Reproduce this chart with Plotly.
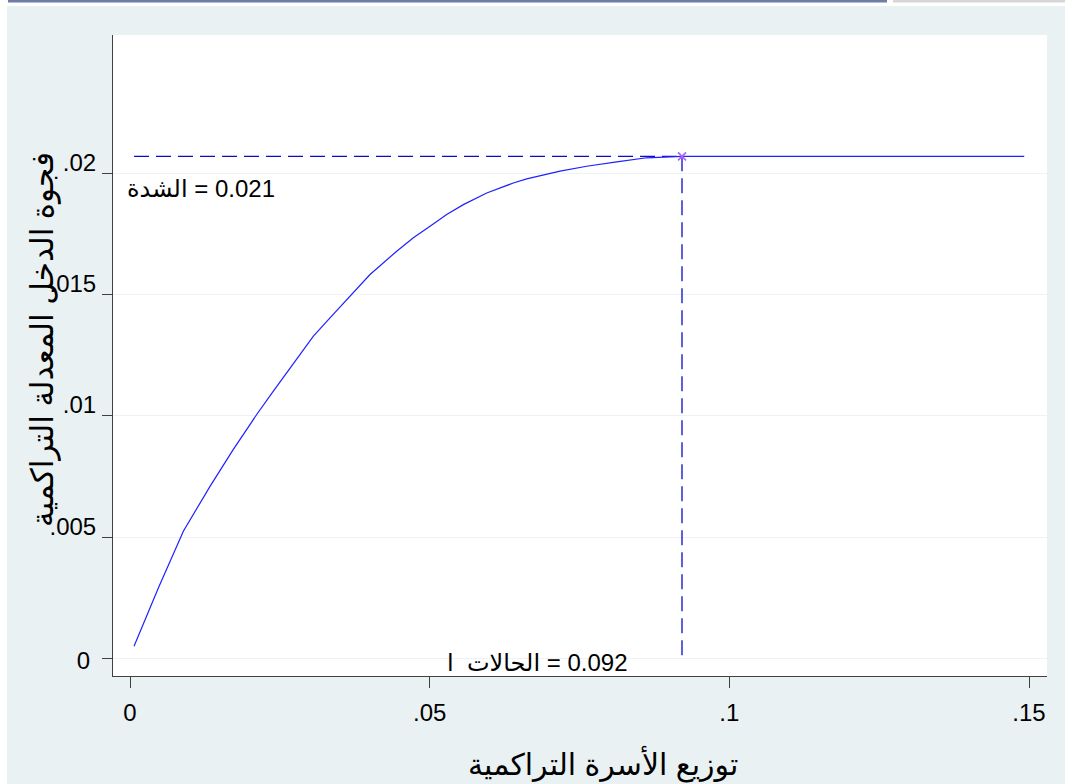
import plotly.graph_objects as go

# Cumulative household distribution (x) and cumulative normalized income gap (y)
curve_x = [0.00067, 0.00473, 0.0089, 0.01335, 0.01724, 0.02114, 0.02392, 0.02781,
           0.0306, 0.03337, 0.03671, 0.04005, 0.0445, 0.04728, 0.05006, 0.05284,
           0.05562, 0.05952, 0.06396, 0.06619, 0.07175, 0.0762, 0.08121, 0.08621,
           0.0921, 0.1492]
curve_y = [0.00051, 0.00291, 0.00525, 0.0071, 0.00862, 0.01006, 0.01102, 0.01232,
           0.01329, 0.01404, 0.01494, 0.01583, 0.01679, 0.01734, 0.01782, 0.0183,
           0.01871, 0.01919, 0.0196, 0.01977, 0.02009, 0.02029, 0.02047, 0.02064,
           0.0207, 0.0207]

headcount = 0.0921      # الحالات
intensity = 0.0207      # الشدة
x_start = 0.00067

x_ticks = [0, 0.05, 0.1, 0.15]
x_tick_text = ["0", ".05", ".1", ".15"]
y_ticks = [0, 0.005, 0.01, 0.015, 0.02]
y_tick_text = ["", ".005", ".01", ".015", ".02"]
y_zero_text = ["0"]

x_title = "توزيع الأسرة التراكمية"
y_title = "فجوة الدخل المعدلة التراكمية"
# LRM keeps the number as a left-to-right run after the Arabic word
label_intensity = "الشدة\u200e = 0.021"
label_headcount = "الحالات\u00a0 ا\u200e = 0.092"

W, H = 1065, 784
ML, MR, MT, MB = 113, 18, 35, 108
PW, PH = W - ML - MR, H - MT - MB
X_RANGE = [-0.002837, 0.153]
Y_RANGE = [-0.000717, 0.0257]


def px(x):
    return (x - ML) / PW


def py(y):
    return (H - MB - y) / PH


fig = go.Figure()

dash_col = "#0c0cc8"
# dashed reference lines
fig.add_trace(go.Scatter(x=[x_start, headcount], y=[intensity, intensity], mode="lines",
                         line=dict(color=dash_col, width=1.3, dash="15px,7px"),
                         hoverinfo="skip", showlegend=False))
fig.add_trace(go.Scatter(x=[headcount, headcount], y=[intensity, 0], mode="lines",
                         line=dict(color=dash_col, width=1.3, dash="15px,7px"),
                         hoverinfo="skip", showlegend=False))
# curve
fig.add_trace(go.Scatter(x=curve_x, y=curve_y, mode="lines",
                         line=dict(color="#2020ff", width=1.2),
                         showlegend=False))
# marker
fig.add_trace(go.Scatter(x=[headcount], y=[intensity], mode="markers",
                         marker=dict(symbol="x-thin-open", size=8,
                                     line=dict(color=dash_col, width=1.6)),
                         showlegend=False))
# invisible trace to hold the overlay axis carrying the "0" label
fig.add_trace(go.Scatter(x=[headcount], y=[intensity], yaxis="y2", mode="markers",
                         marker=dict(opacity=0), hoverinfo="skip", showlegend=False))

shapes = [
    dict(type="rect", xref="paper", yref="paper", x0=px(7), x1=px(W), y0=py(6), y1=py(H),
         fillcolor="#EAF1F3", line=dict(width=0), layer="below"),
    dict(type="rect", xref="paper", yref="paper", x0=0, x1=1, y0=0, y1=1,
         fillcolor="white", line=dict(width=0), layer="below"),
    dict(type="rect", xref="paper", yref="paper", x0=px(8), x1=px(887), y0=py(0), y1=py(2.5),
         fillcolor="#6E7DA6", line=dict(width=0), layer="below"),
    dict(type="rect", xref="paper", yref="paper", x0=px(893), x1=px(W), y0=py(0), y1=py(2.5),
         fillcolor="#D6D6D6", line=dict(width=0), layer="below"),
]

font = "Liberation Sans, Arial, DejaVu Sans, sans-serif"

annotations = [
    dict(x=-0.00083, y=0.01939, xref="x", yref="y", text=label_intensity,
         showarrow=False, xanchor="left", yanchor="middle",
         font=dict(size=24, color="black", family=font)),
    dict(x=0.05256, y=-0.00014, xref="x", yref="y", text=label_headcount,
         showarrow=False, xanchor="left", yanchor="middle",
         font=dict(size=24, color="black", family=font)),
    dict(x=px(603), y=py(764), xref="paper", yref="paper", text=x_title,
         showarrow=False, xanchor="center", yanchor="middle",
         font=dict(size=30, color="black", family=font)),
    dict(x=px(43), y=py(340), xref="paper", yref="paper", text=y_title, textangle=-90,
         showarrow=False, xanchor="center", yanchor="middle",
         font=dict(size=31, color="black", family=font)),
]

fig.update_layout(
    width=W, height=H,
    margin=dict(l=ML, r=MR, t=MT, b=MB, pad=0),
    paper_bgcolor="white",
    plot_bgcolor="rgba(0,0,0,0)",
    font=dict(family=font, color="black"),
    shapes=shapes,
    annotations=annotations,
    xaxis=dict(range=X_RANGE, tickvals=x_ticks, ticktext=x_tick_text,
               showgrid=False, zeroline=False, showline=True, linecolor="#404040",
               linewidth=1, ticks="outside", ticklen=11, tickcolor="#404040",
               tickfont=dict(size=24, color="black"), ticklabelstandoff=4),
    yaxis=dict(range=Y_RANGE, tickvals=y_ticks, ticktext=y_tick_text,
               showgrid=True, gridcolor="#EDF2F3", gridwidth=1, zeroline=False,
               showline=True, linecolor="#404040", linewidth=1, ticks="outside",
               ticklen=10, tickcolor="#404040", tickfont=dict(size=24, color="black"),
               ticklabelshift=-11, ticklabelstandoff=1),
    yaxis2=dict(range=Y_RANGE, overlaying="y", side="left", tickvals=[0], ticktext=y_zero_text,
                showgrid=False, zeroline=False, showline=False, ticks="",
                tickfont=dict(size=24, color="black"), ticklabelshift=2,
                ticklabelstandoff=22),
)

fig.write_html("out.html")
